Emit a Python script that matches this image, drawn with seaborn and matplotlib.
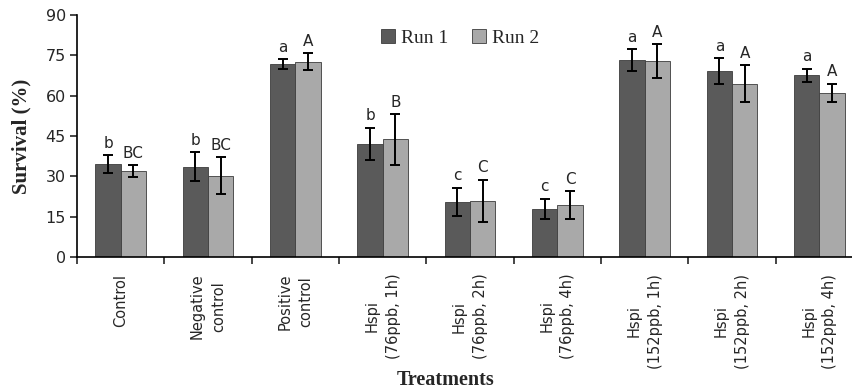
import numpy as np
import pandas as pd
import seaborn as sns
import matplotlib.pyplot as plt

# data
treatments = ["Control", "Negative\ncontrol", "Positive\ncontrol",
              "Hspi\n(76ppb, 1h)", "Hspi\n(76ppb, 2h)", "Hspi\n(76ppb, 4h)",
              "Hspi\n(152ppb, 1h)", "Hspi\n(152ppb, 2h)", "Hspi\n(152ppb, 4h)"]
run1 = [34.6, 33.6, 71.8, 42.0, 20.5, 18.0, 73.2, 69.2, 67.5]
run1_err = [3.2, 5.3, 1.9, 6.1, 5.3, 3.7, 4.0, 4.9, 2.6]
run2 = [32.0, 30.3, 72.7, 43.7, 21.0, 19.3, 72.8, 64.5, 61.0]
run2_err = [2.2, 7.0, 3.2, 9.3, 7.8, 5.3, 6.4, 6.8, 3.5]
letters1 = ["b", "b", "a", "b", "c", "c", "a", "a", "a"]
letters2 = ["BC", "BC", "A", "B", "C", "C", "A", "A", "A"]
y_ticks = [0, 15, 30, 45, 60, 75, 90]

df = pd.DataFrame({
    "Treatment": treatments * 2,
    "Survival": run1 + run2,
    "Run": ["Run 1"] * len(run1) + ["Run 2"] * len(run2),
})

sns.set_style("ticks")
plt.rcParams["font.family"] = ["DejaVu Sans"]

fig = plt.figure(figsize=(8.53, 3.91), dpi=100)
ax = fig.add_axes([77 / 853, 134 / 391, 786 / 853, 242 / 391])

sns.barplot(data=df, x="Treatment", y="Survival", hue="Run",
            palette={"Run 1": "#5a5a5a", "Run 2": "#a9a9a9"},
            width=0.58, errorbar=None, saturation=1,
            edgecolor="#3c3c3c", linewidth=0.6, ax=ax)

# error bars and letters
for cont, errs, letters in zip(ax.containers, [run1_err, run2_err], [letters1, letters2]):
    xs = [b.get_x() + b.get_width() / 2 for b in cont]
    hs = [b.get_height() for b in cont]
    ax.errorbar(xs, hs, yerr=errs, fmt="none", ecolor="black",
                elinewidth=1.4, capsize=3.5, capthick=1.4, zorder=5)
    for x, h, e, t in zip(xs, hs, errs, letters):
        ax.annotate(t, (x, h + e), xytext=(0, 3), textcoords="offset points",
                    ha="center", va="bottom", fontsize=11)

ax.set_xlim(-0.5, len(treatments) - 0.5)
ax.set_ylim(0, 90)
ax.set_yticks(y_ticks)
ax.tick_params(axis="y", labelsize=11.5, length=5, width=1.2, direction="out", pad=3)

ax.set_xticks(range(len(treatments)))
ax.set_xticklabels(treatments, rotation=90, fontsize=10.5, va="top", ha="center",
                   linespacing=1.5)
ax.tick_params(axis="x", which="major", length=0, pad=12)
ax.set_xticks(np.arange(-0.5, len(treatments), 1), minor=True)
ax.tick_params(axis="x", which="minor", length=5, width=1.2, direction="out")

sns.despine(ax=ax)
for s in ["left", "bottom"]:
    ax.spines[s].set_linewidth(1.2)
    ax.spines[s].set_color("black")

ax.set_ylabel("Survival (%)", family="Liberation Serif", fontweight="bold", fontsize=15, labelpad=10)
ax.set_xlabel("")
fig.text(446 / 853, 1 - 380 / 391, "Treatments", family="Liberation Serif",
         fontweight="bold", fontsize=14.5, ha="center", va="center")

ax.legend(loc="center", bbox_to_anchor=(460 / 853, 1 - 38 / 391),
          bbox_transform=fig.transFigure, ncol=2, frameon=False,
          handlelength=0.75, handleheight=0.75, handletextpad=0.3,
          columnspacing=1.2, prop={"family": "Liberation Serif", "size": 14})

fig.savefig("out.png", dpi=100)
